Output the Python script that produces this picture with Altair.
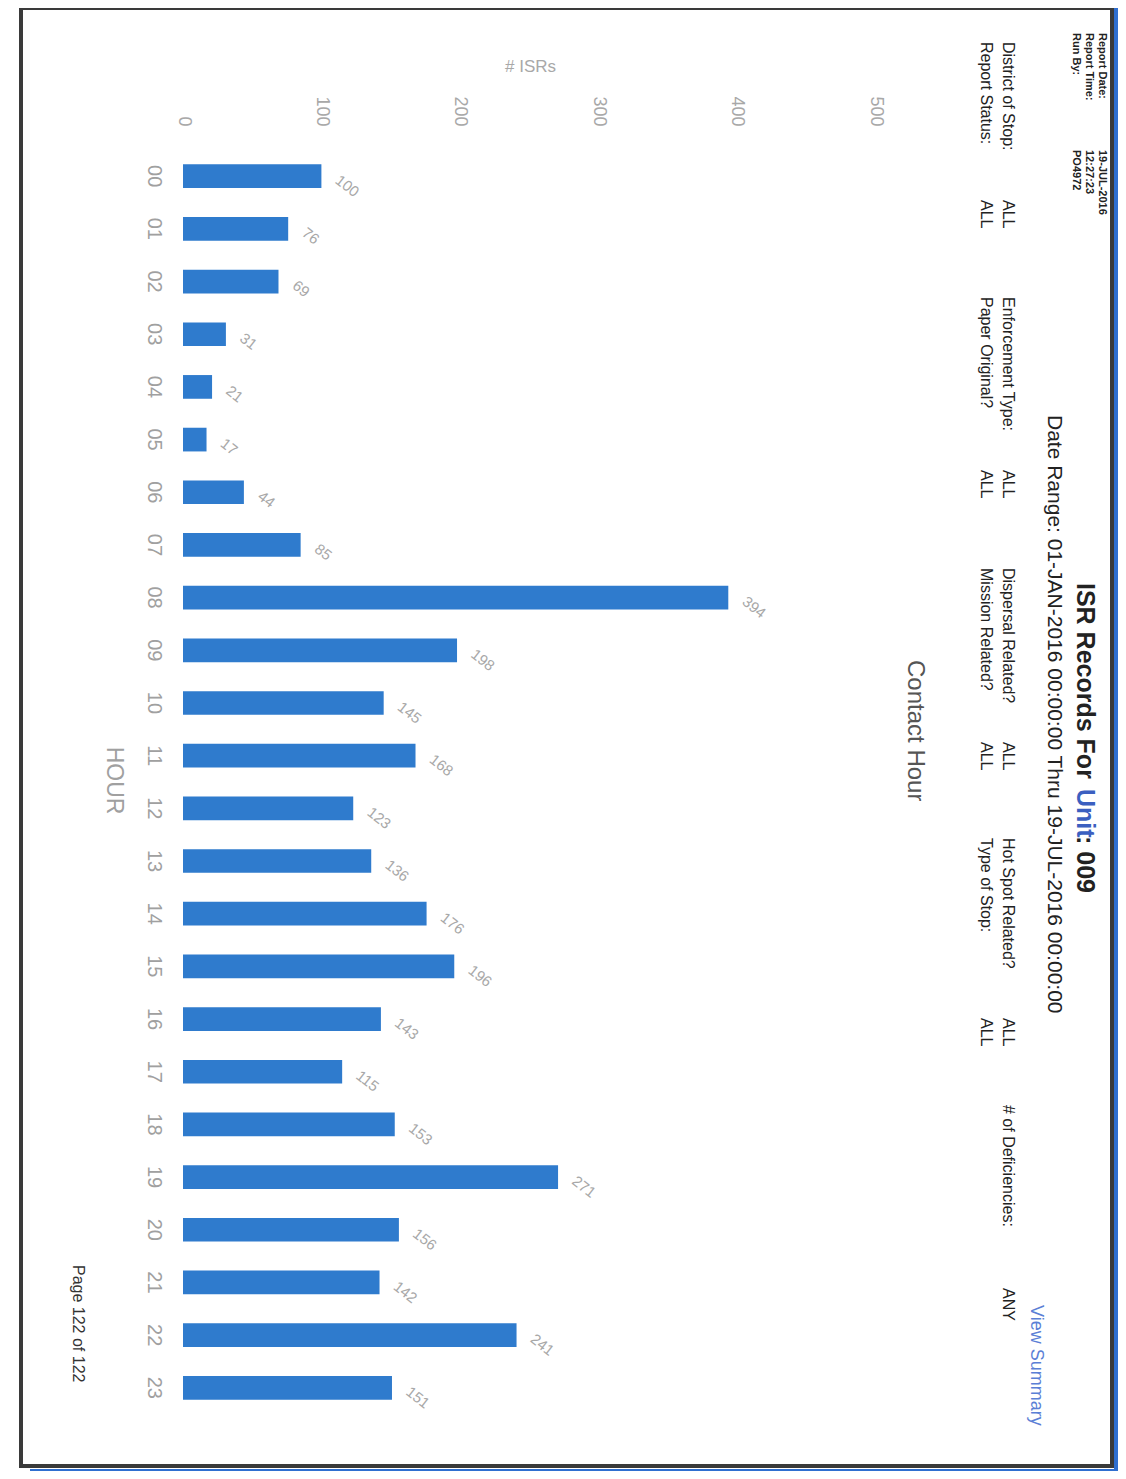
import altair as alt
import pandas as pd

# ---- data ----
hours = ["00", "01", "02", "03", "04", "05", "06", "07", "08", "09", "10", "11",
         "12", "13", "14", "15", "16", "17", "18", "19", "20", "21", "22", "23"]
isrs = [100, 76, 69, 31, 21, 17, 44, 85, 394, 198, 145, 168,
        123, 136, 176, 196, 143, 115, 153, 271, 156, 142, 241, 151]
x_ticks = [0, 100, 200, 300, 400, 500]

df = pd.DataFrame({"hour": hours, "isrs": isrs})

OX, OY = 183, 138   # page position of plot origin
FONT = "Liberation Sans"
BLUE = "#2f7bcd"


def txt(s, X, Y, size, color="#222222", weight="normal", align="left", angle=90):
    return alt.Chart(pd.DataFrame({"t": [s]})).mark_text(
        angle=angle, align=align, baseline="middle", fontSize=size, font=FONT,
        fontWeight=weight, color=color
    ).encode(x=alt.value(X - OX), y=alt.value(Y - OY), text="t:N")


def rule(X1, Y1, X2, Y2, color="#3a3a3a", w=4):
    return alt.Chart(pd.DataFrame({"a": [0]})).mark_rule(color=color, strokeWidth=w).encode(
        x=alt.value(X1 - OX), x2=alt.value(X2 - OX), y=alt.value(Y1 - OY), y2=alt.value(Y2 - OY))


def band(X1, Y1, X2, Y2, color="#2f6fd0"):
    return alt.Chart(pd.DataFrame({"a": [0]})).mark_rect(color=color).encode(
        x=alt.value(X1 - OX), x2=alt.value(X2 - OX), y=alt.value(Y1 - OY), y2=alt.value(Y2 - OY))


base = alt.Chart(df)

bars = base.mark_bar(color=BLUE).encode(
    x=alt.X("isrs:Q",
            scale=alt.Scale(domain=[0, 500], nice=False, zero=True),
            axis=alt.Axis(orient="top", values=x_ticks, title="# ISRs",
                          domain=False, ticks=False, grid=False,
                          labelAngle=90, labelAlign="right", labelBaseline="middle",
                          labelPadding=12, labelFont=FONT, labelFontSize=18,
                          labelColor="#a8a8a8",
                          titleFont=FONT, titleFontSize=17, titleFontWeight="normal",
                          titleColor="#a8a8a8", titleX=347, titleY=-72,
                          titleAngle=0, titleAlign="center", titleBaseline="middle")),
    y=alt.Y("hour:N", sort=hours,
            scale=alt.Scale(paddingInner=0.55, paddingOuter=0.5),
            axis=alt.Axis(orient="left", title="HOUR", domain=False, ticks=False,
                          grid=False, labelAngle=90, labelAlign="center",
                          labelBaseline="top", labelPadding=20, labelFont=FONT,
                          labelFontSize=20, labelColor="#a0a0a0",
                          titleFont=FONT, titleFontSize=23, titleFontWeight="normal",
                          titleColor="#a0a0a0", titleX=-70, titleY=642,
                          titleAngle=90, titleAlign="center", titleBaseline="middle")),
)

values = base.mark_text(angle=38, align="left", baseline="middle", fontSize=15,
                        font=FONT, color="#a8a8a8", xOffset=16, yOffset=2).encode(
    x="isrs:Q", y=alt.Y("hour:N", sort=hours), text="isrs:Q")

layers = [
    band(210, 0, 1126, 10), band(1114, 0, 1126, 1479), band(30, 1469, 1126, 1479),
    rule(20, 8, 1112, 8), rule(21, 8, 21, 1468), rule(1112, 8, 1112, 1468),
    rule(20, 1466, 1112, 1466),
    bars, values,
    # header block
    txt("Report Date:", 1102, 33, 11, weight="bold"), txt("19-JUL-2016", 1102, 150, 11, weight="bold"),
    txt("Report Time:", 1089, 33, 11, weight="bold"), txt("12:27:23", 1089, 150, 11, weight="bold"),
    txt("Run By:", 1076, 33, 11, weight="bold"), txt("PO4972", 1076, 150, 11, weight="bold"),
    txt("ISR Records For ", 1085, 583, 25, weight="bold"),
    txt("Unit", 1085, 789, 25, weight="bold", color="#3b5fc0"),
    txt(": 009", 1085, 836, 25, weight="bold"),
    txt("Date Range: 01-JAN-2016 00:00:00 Thru 19-JUL-2016 00:00:00", 1054, 415, 21),
    txt("View Summary", 1036, 1305, 18, color="#5b7fd6"),
    txt("District of Stop:", 1008, 42, 16), txt("ALL", 1008, 200, 16),
    txt("Enforcement Type:", 1008, 297, 16), txt("ALL", 1008, 470, 16),
    txt("Dispersal Related?", 1008, 568, 16), txt("ALL", 1008, 742, 16),
    txt("Hot Spot Related?", 1008, 838, 16), txt("ALL", 1008, 1018, 16),
    txt("# of Deficiencies:", 1008, 1105, 16), txt("ANY", 1008, 1288, 16),
    txt("Report Status:", 986, 42, 16), txt("ALL", 986, 200, 16),
    txt("Paper Original?", 986, 297, 16), txt("ALL", 986, 470, 16),
    txt("Mission Related?", 986, 568, 16), txt("ALL", 986, 742, 16),
    txt("Type of Stop:", 986, 838, 16), txt("ALL", 986, 1018, 16),
    txt("Contact Hour", 915, 660, 24, color="#555555"),
    txt("Page 122 of 122", 78, 1265, 16, color="#333333"),
]

chart = alt.layer(*layers).properties(
    width=692, height=1288,
    autosize=alt.AutoSizeParams(type="none"),
    padding={"left": 175, "top": 130, "right": 243, "bottom": 45},
    background="white",
).configure_view(stroke=None)

chart.save("out.html", embed_options={"renderer": "svg", "actions": False})
